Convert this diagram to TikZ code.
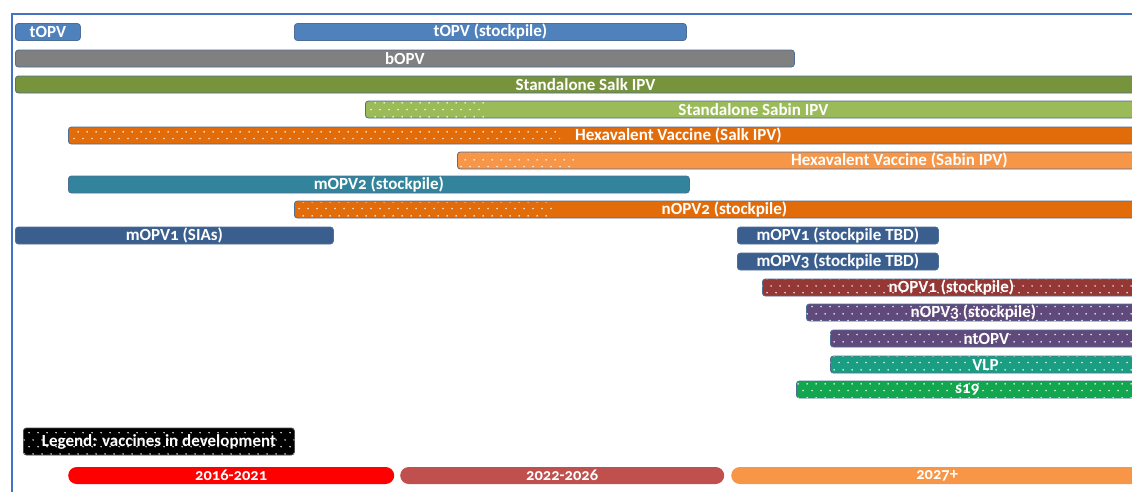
\documentclass[tikz,border=0pt]{standalone}
\usepackage{fontspec}
\setmainfont{Carlito}[Numbers=OldStyle]
\usetikzlibrary{patterns.meta}

\definecolor{frameblue}{HTML}{4472C4}
\definecolor{barline}{HTML}{4F6E96}
\definecolor{topvblue}{HTML}{4F81BD}
\definecolor{bopvgray}{HTML}{808080}
\definecolor{salkgreen}{HTML}{77933C}
\definecolor{sabingreen}{HTML}{9BBB59}
\definecolor{hexorange}{HTML}{E36C0A}
\definecolor{lightorange}{HTML}{F79646}
\definecolor{mopvteal}{HTML}{31849B}
\definecolor{mopvblue}{HTML}{3A5F8F}
\definecolor{nopvred}{HTML}{953735}
\definecolor{nopvpurple}{HTML}{604A7B}
\definecolor{vlpteal}{HTML}{1A9E82}
\definecolor{sgreen}{HTML}{12A64E}
\definecolor{yearred}{HTML}{FF0000}
\definecolor{yearbrown}{HTML}{C0504D}

% white dots for vaccines in development
\pgfdeclarepattern{
  name=devdots,
  type=uncolored,
  bottom left={\pgfpoint{0pt}{0pt}},
  top right={\pgfpoint{9pt}{14pt}},
  tile size={\pgfpoint{9pt}{14pt}},
  code={
    \pgfpathcircle{\pgfpoint{2.25pt}{3.5pt}}{0.9pt}
    \pgfpathcircle{\pgfpoint{6.75pt}{10.5pt}}{0.9pt}
    \pgfusepath{fill}
  }
}

\begin{document}
\begin{tikzpicture}[x=1pt, y=-1pt,
    bar/.style={draw=barline, line width=0.8pt, rounded corners=3pt, anchor=west,
      minimum height=17pt, inner sep=0pt, text=white, font=\bfseries\fontsize{17}{17}\selectfont},
    devbar/.style={bar, postaction={pattern=devdots, pattern color=white}},
    dots/.style={pattern=devdots, pattern color=white},
    yearbar/.style={rounded corners=8.5pt, anchor=west, minimum height=17pt, inner sep=0pt,
      text=white, font=\bfseries\fontsize{16.5}{17}\selectfont}]
    \useasboundingbox (0,0) rectangle (1132,491);
    \clip (0,0) rectangle (1132,491);

    % Frame
    \draw[frameblue, line width=1.5pt] (12,500) |- (1140,14);

    % Trivalent and bivalent OPV
    \node[bar, fill=topvblue, minimum width=65pt] (topv) at (15,32) {tOPV};
    \node[bar, fill=topvblue, minimum width=392pt] (topvstock) at (294,32) {tOPV (stockpile)};
    \node[bar, fill=bopvgray, minimum width=779pt] (bopv) at (15,58.5) {bOPV};

    % IPV
    \node[bar, fill=salkgreen, minimum width=1140pt] (salk) at (15,84.5) {Standalone Salk IPV};
    \node[bar, fill=sabingreen, minimum width=776pt] (sabin) at (365,109.5) {Standalone Sabin IPV};
    \fill[dots] (367,102) rectangle (487,117);

    % Hexavalent
    \node[bar, fill=hexorange, minimum width=1220pt] (hexsalk) at (68,135.5) {Hexavalent Vaccine (Salk IPV)};
    \fill[dots] (70,128) rectangle (560,143);
    \node[bar, fill=lightorange, minimum width=884pt] (hexsabin) at (457,160.5) {Hexavalent Vaccine (Sabin IPV)};
    \fill[dots] (459,153) rectangle (575,168);

    % Type 2
    \node[bar, fill=mopvteal, minimum width=621pt] (mopv2) at (68,184.5) {mOPV2 (stockpile)};
    \node[bar, fill=hexorange, minimum width=860pt] (nopv2) at (294,209.5) {nOPV2 (stockpile)};
    \fill[dots] (296,202) rectangle (553,217);

    % Types 1 and 3
    \node[bar, fill=mopvblue, minimum width=318pt] (mopv1sia) at (15,235.5) {mOPV1 (SIAs)};
    \node[bar, fill=mopvblue, minimum width=201pt] (mopv1tbd) at (737,235.5) {mOPV1 (stockpile TBD)};
    \node[bar, fill=mopvblue, minimum width=201pt] (mopv3tbd) at (737,261.5) {mOPV3 (stockpile TBD)};

    % Vaccines in development
    \node[devbar, fill=nopvred, minimum width=378pt] (nopv1) at (762,287.5) {nOPV1 (stockpile)};
    \node[devbar, fill=nopvpurple, minimum width=334pt] (nopv3) at (806,312.5) {nOPV3 (stockpile)};
    \node[devbar, fill=nopvpurple, minimum width=312pt] (ntopv) at (830,338.5) {ntOPV};
    \node[devbar, fill=vlpteal, minimum width=310pt] (vlp) at (830,364.5) {VLP};
    \node[devbar, fill=sgreen, minimum width=342pt] (s19) at (796,389.5) {s19};

    % Legend
    \node[devbar, fill=black, draw=black!70, minimum width=271pt, minimum height=27pt] (legend) at (23,441.5) {Legend: vaccines in development};

    % Time periods
    \node[yearbar, fill=yearred, minimum width=326pt] (period1) at (68,475.5) {2016-2021};
    \node[yearbar, fill=yearbrown, minimum width=324pt] (period2) at (400,475.5) {2022-2026};
    \node[yearbar, fill=lightorange, minimum width=412pt] (period3) at (731,475.5) {2027+};
\end{tikzpicture}
\end{document}
